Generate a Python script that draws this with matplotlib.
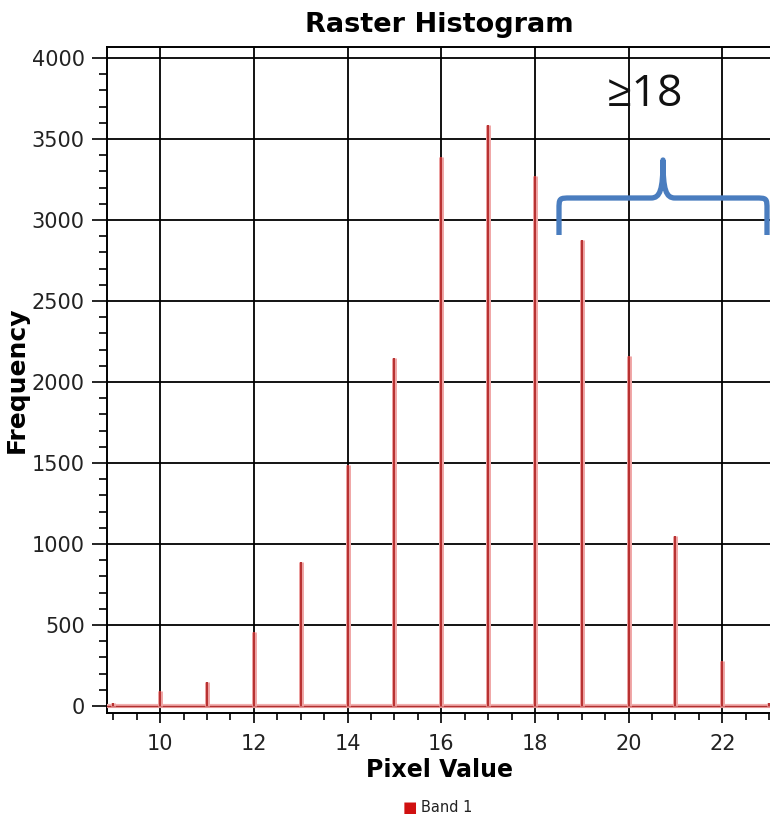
import numpy as np
import matplotlib
matplotlib.use("Agg")
import matplotlib.pyplot as plt
from matplotlib.path import Path
from matplotlib.patches import PathPatch
from matplotlib.ticker import MultipleLocator

# data (perkiraan)
pixel_value = [9, 10, 11, 12, 13, 14, 15, 16, 17, 18, 19, 20, 21, 22, 23]
frequency = [20, 95, 150, 455, 890, 1490, 2150, 3390, 3585, 3270, 2875, 2160, 1050, 280, 20]
series_name = "Band 1"
note_text = "\u226518"

W, H = 770, 815
fig = plt.figure(figsize=(W / 100, H / 100), dpi=100)
ax = fig.add_axes([107 / W, 1 - 713 / H, 1 - 107 / W + 0.002, (713 - 47) / H])

ax.set_xlim(8.866, 23.05)
ax.set_ylim(-43, 4068)

# garis dasar dan spike histogram
ax.axhline(0, color="#f2b0b0", lw=3.0, zorder=3)
ax.axhline(0, color="#b03030", lw=1.0, zorder=3)
ax.vlines(pixel_value, 0, frequency, color="#f0a8a8", lw=3.6, zorder=3)
ax.vlines(pixel_value, 0, frequency, color="#b83232", lw=1.5, zorder=4)

# grid dan tick
ax.xaxis.set_major_locator(MultipleLocator(2))
ax.xaxis.set_minor_locator(MultipleLocator(0.5))
ax.yaxis.set_major_locator(MultipleLocator(500))
ax.yaxis.set_minor_locator(MultipleLocator(100))
ax.grid(True, which="major", color="black", lw=1.3, zorder=1)
ax.set_axisbelow(True)
ax.tick_params(axis="x", which="major", length=7, width=1.2, pad=8, labelsize=15)
ax.tick_params(axis="x", which="minor", length=5, width=1.2)
ax.tick_params(axis="y", which="major", length=11, width=1.2, pad=5, labelsize=15)
ax.tick_params(axis="y", which="minor", length=6, width=1.2)
for lbl in ax.get_xticklabels() + ax.get_yticklabels():
    lbl.set_color("#222222")
for s in ["left", "top", "bottom"]:
    ax.spines[s].set_linewidth(1.4)
ax.spines["right"].set_visible(False)

ax.set_title("Raster Histogram", fontsize=19.5, fontweight="bold", pad=11)
ax.set_xlabel("Pixel Value", fontsize=17, fontweight="bold", labelpad=3)
ax.set_ylabel("Frequency", fontsize=18, fontweight="bold", labelpad=2)

# legenda
fig.text(410 / W, 1 - 808 / H, "\u25a0", color="#d01010", fontsize=11, ha="center", va="center")
fig.text(421 / W, 1 - 808 / H, series_name, color="#222222", fontsize=10.5, ha="left", va="center")

# kurung kurawal (koordinat piksel -> fraksi figure)
def fp(px, py):
    return (px / W, 1 - py / H)

x0, x1, xc = 559, 767, 663
yb, ym, yt = 235, 198, 160
r = 12
verts = [
    fp(x0, yb), fp(x0, ym + r),
    fp(x0, ym), fp(x0, ym), fp(x0 + r, ym),
    fp(xc - 12, ym),
    fp(xc - 3, ym), fp(xc, ym - 8), fp(xc, yt),
    fp(xc, ym - 8), fp(xc + 3, ym), fp(xc + 12, ym),
    fp(x1 - r, ym),
    fp(x1, ym), fp(x1, ym), fp(x1, ym + r),
    fp(x1, yb),
]
codes = [Path.MOVETO, Path.LINETO,
         Path.CURVE4, Path.CURVE4, Path.CURVE4,
         Path.LINETO,
         Path.CURVE4, Path.CURVE4, Path.CURVE4,
         Path.CURVE4, Path.CURVE4, Path.CURVE4,
         Path.LINETO,
         Path.CURVE4, Path.CURVE4, Path.CURVE4,
         Path.LINETO]
brace = PathPatch(Path(verts, codes), transform=fig.transFigure, fill=False,
                  edgecolor="#4a7dbf", lw=3.8, capstyle="butt", joinstyle="round")
fig.add_artist(brace)

fig.text(645 / W, 1 - 95 / H, note_text, fontsize=32, ha="center", va="center",
         family=["Open Sans", "DejaVu Sans"], color="#111111")

fig.savefig("out.png", dpi=100)
